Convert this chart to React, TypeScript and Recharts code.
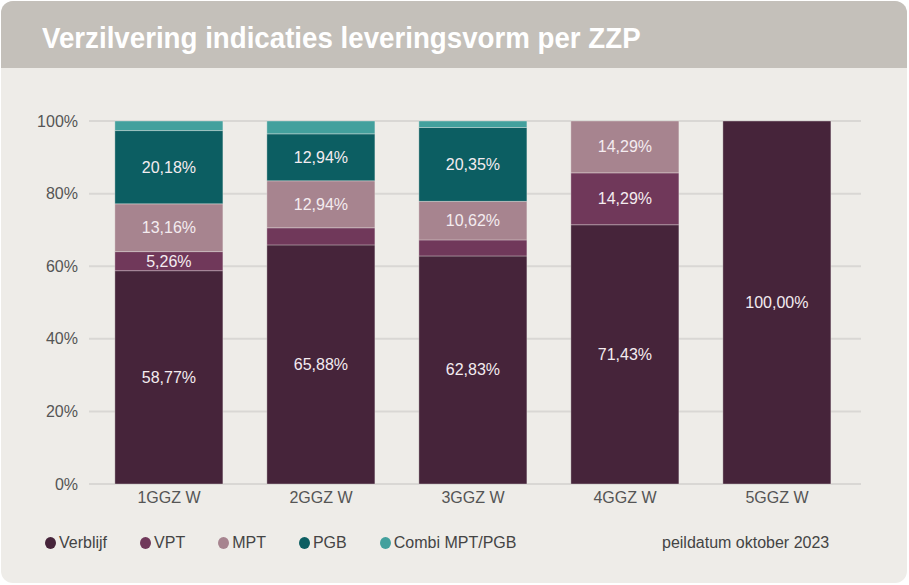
import React from 'react';
import { BarChart, Bar, XAxis, YAxis, CartesianGrid, LabelList, Legend } from 'recharts';

const categories = ['1GGZ W', '2GGZ W', '3GGZ W', '4GGZ W', '5GGZ W'];
const verblijf = [58.77, 65.88, 62.83, 71.43, 100];
const vpt = [5.26, 4.71, 4.42, 14.29, 0];
const mpt = [13.16, 12.94, 10.62, 14.29, 0];
const pgb = [20.18, 12.94, 20.35, 0, 0];
const combi = [2.63, 3.53, 1.77, 0, 0];
const yTicks = [0, 20, 40, 60, 80, 100];

const SERIES = [
  { key: 'verblijf', name: 'Verblijf', color: '#46243a', values: verblijf },
  { key: 'vpt', name: 'VPT', color: '#70385a', values: vpt },
  { key: 'mpt', name: 'MPT', color: '#a7848f', values: mpt },
  { key: 'pgb', name: 'PGB', color: '#0c5e62', values: pgb },
  { key: 'combi', name: 'Combi MPT/PGB', color: '#43a09d', values: combi },
];

const data = categories.map((name, i) => {
  const row: Record<string, any> = { name };
  SERIES.forEach((s) => (row[s.key] = s.values[i]));
  return row;
});

const FONT = '"Liberation Sans", Arial, sans-serif';

// only label segments that are big enough (>= 5%)
const renderLabel = (props: any) => {
  const { x, y, width, height, value } = props;
  if (!value || value < 5) return null;
  return (
    <text
      x={x + width / 2}
      y={y + height / 2}
      fill="#f4ecf0"
      fontSize={16}
      fontFamily={FONT}
      textAnchor="middle"
      dominantBaseline="central"
    >
      {value.toFixed(2).replace('.', ',') + '%'}
    </text>
  );
};

const renderLegend = () => (
  <div style={{ display: 'flex', alignItems: 'center', fontFamily: FONT, fontSize: 16, color: '#444' }}>
    {SERIES.map((s) => (
      <div key={s.key} style={{ display: 'flex', alignItems: 'center', marginRight: 33 }}>
        <span
          style={{
            display: 'inline-block',
            width: 11,
            height: 12,
            borderRadius: '50%',
            background: s.color,
            marginRight: 3,
          }}
        />
        <span>{s.name}</span>
      </div>
    ))}
  </div>
);

const App: React.FC = () => {
  return (
    <div style={{ width: 909, height: 585, background: '#fff', position: 'relative' }}>
      <style>{'body{margin:0}'}</style>
      <div
        style={{
          position: 'absolute',
          left: 1,
          top: 1,
          width: 906,
          height: 582,
          borderRadius: 12,
          background: '#eeece8',
          overflow: 'hidden',
        }}
      >
        <div style={{ height: 67, background: '#c4c0ba', position: 'relative' }}>
          <div
            style={{
              position: 'absolute',
              left: 41,
              top: 20,
              color: '#fff',
              fontFamily: FONT,
              fontWeight: 700,
              fontSize: 30,
              lineHeight: '34px',
              whiteSpace: 'nowrap',
              transform: 'scaleX(0.923)',
              transformOrigin: 'left center',
            }}
          >
            Verzilvering indicaties leveringsvorm per ZZP
          </div>
        </div>
        <div style={{ position: 'absolute', left: 0, top: 68 }}>
          <BarChart
            width={906}
            height={514}
            data={data}
            barCategoryGap="14.4%"
            margin={{ top: 52, right: 46, bottom: 51, left: 0 }}
          >
            <CartesianGrid vertical={false} stroke="#d9d7d4" strokeWidth={2} />
            <XAxis
              dataKey="name"
              axisLine={false}
              tickLine={false}
              height={30}
              padding={{ left: 4, right: 8 }}
              tick={{ fill: '#555', fontSize: 16, fontFamily: FONT }}
            />
            <YAxis
              width={88}
              domain={[0, 100]}
              ticks={yTicks}
              axisLine={false}
              tickLine={false}
              tickSize={0}
              tickMargin={11}
              tickFormatter={(v) => `${v}%`}
              tick={{ fill: '#555', fontSize: 16, fontFamily: FONT }}
            />
            {SERIES.map((s) => (
              <Bar
                key={s.key}
                dataKey={s.key}
                name={s.name}
                stackId="a"
                fill={s.color}
                stroke="#eeece8"
                strokeOpacity={0.35}
                strokeWidth={1}
                isAnimationActive={false}
              >
                <LabelList dataKey={s.key} content={renderLabel} />
              </Bar>
            ))}
            <Legend
              content={renderLegend}
              wrapperStyle={{ left: 44, top: 465, width: 'auto', height: 18 }}
            />
          </BarChart>
        </div>
        <div
          style={{
            position: 'absolute',
            left: 661,
            top: 533,
            fontFamily: FONT,
            fontSize: 16,
            color: '#444',
          }}
        >
          peildatum oktober 2023
        </div>
      </div>
    </div>
  );
};

export default App;
